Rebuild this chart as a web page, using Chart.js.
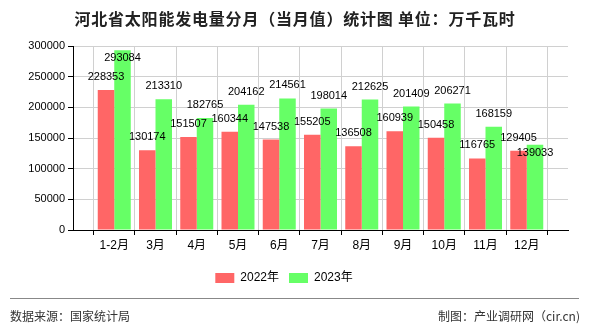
<!DOCTYPE html>
<html>
<head>
<meta charset="utf-8">
<script src="https://cdn.jsdelivr.net/npm/chart.js@4"></script>
<style>
  body { margin: 0; background: #fff; }
  #wrap { position: relative; width: 590px; height: 330px; font-family: "Noto Sans CJK SC", sans-serif; }
  #title { position: absolute; left: 0; top: 6px; width: 590px; text-align: center; font-size: 16px; font-weight: bold; letter-spacing: 0.8px; color: #222; }
  #line { position: absolute; left: 10px; top: 298px; width: 569px; height: 0; border-top: 1px solid #888; }
  .foot { position: absolute; top: 307px; font-size: 12px; color: #333; }
</style>
</head>
<body>
<div id="wrap">
  <canvas id="c" width="590" height="330"></canvas>
  <div id="title">河北省太阳能发电量分月（当月值）统计图 单位：万千瓦时</div>
  <div id="line"></div>
  <div class="foot" style="left:10px">数据来源：国家统计局</div>
  <div class="foot" style="right:10px">制图：产业调研网（cir.cn)</div>
</div>
<script>
// 月份和两年的数据
const MONTHS = ["1-2月", "3月", "4月", "5月", "6月", "7月", "8月", "9月", "10月", "11月", "12月"];
const Y2022 = [228353, 130174, 151507, 160344, 147538, 155205, 136508, 160939, 150458, 116765, 129405];
const Y2023 = [293084, 213310, 182765, 204162, 214561, 198014, 212625, 201409, 206271, 168159, 139033];
const Y_TICKS = [0, 50000, 100000, 150000, 200000, 250000, 300000];

// eixo com um espaço vazio em cada ponta
const pad = arr => [null, ...arr, null];

const valueLabels = {
  id: "valueLabels",
  afterDatasetsDraw(chart) {
    const ctx = chart.ctx;
    const top = chart.chartArea.top;
    ctx.save();
    ctx.font = "11px 'Liberation Sans', sans-serif";
    ctx.fillStyle = "#000";
    ctx.textAlign = "center";
    ctx.textBaseline = "middle";
    const bars0 = chart.getDatasetMeta(0).data;
    const bars1 = chart.getDatasetMeta(1).data;
    chart.data.labels.forEach((_, j) => {
      const v0 = chart.data.datasets[0].data[j];
      const v1 = chart.data.datasets[1].data[j];
      if (v0 == null) return;
      const y0 = Math.max(bars0[j].y - 13, top + 12);
      let y1 = Math.max(bars1[j].y - 13, top + 12);
      // rótulos sobrepostos: empurra o segundo pra baixo
      if (Math.abs(y1 - y0) < 13) y1 = y0 + 15;
      ctx.fillText(String(v0), bars0[j].x, y0);
      ctx.fillText(String(v1), bars1[j].x, y1);
    });
    ctx.restore();
  }
};

new Chart(document.getElementById("c"), {
  type: "bar",
  data: {
    labels: pad(MONTHS).map(m => m || ""),
    datasets: [
      { label: "2022年", data: pad(Y2022), backgroundColor: "#ff6666", categoryPercentage: 0.8, barPercentage: 1.0 },
      { label: "2023年", data: pad(Y2023), backgroundColor: "#66ff66", categoryPercentage: 0.8, barPercentage: 1.0 }
    ]
  },
  options: {
    responsive: false,
    animation: false,
    layout: { padding: { left: 0, right: 22, top: 46, bottom: 36 } },
    plugins: {
      legend: {
        position: "bottom",
        labels: { boxWidth: 19, boxHeight: 10, padding: 10, color: "#000", font: { size: 12, family: "'Liberation Sans', 'Noto Sans CJK SC', sans-serif" } }
      },
      tooltip: { enabled: false }
    },
    scales: {
      x: {
        offset: false,
        grid: { color: "#d0d0d0", tickColor: "#000", tickLength: 5 },
        border: { color: "#000" },
        ticks: { color: "#000", autoSkip: false, maxRotation: 0, padding: 3, font: { size: 12, family: "'Liberation Sans', 'Noto Sans CJK SC', sans-serif" } },
        afterFit: s => { s.height = 32; }
      },
      y: {
        min: 0, max: 300000,
        afterBuildTicks: s => { s.ticks = Y_TICKS.map(v => ({ value: v })); },
        grid: { color: "#d0d0d0", tickColor: "#000", tickLength: 5 },
        border: { color: "#000" },
        ticks: { color: "#000", padding: 3, callback: v => String(v), font: { size: 11, family: "'Liberation Sans', sans-serif" } },
        afterFit: s => { s.width = 73; }
      }
    }
  },
  plugins: [valueLabels]
});
</script>
</body>
</html>
